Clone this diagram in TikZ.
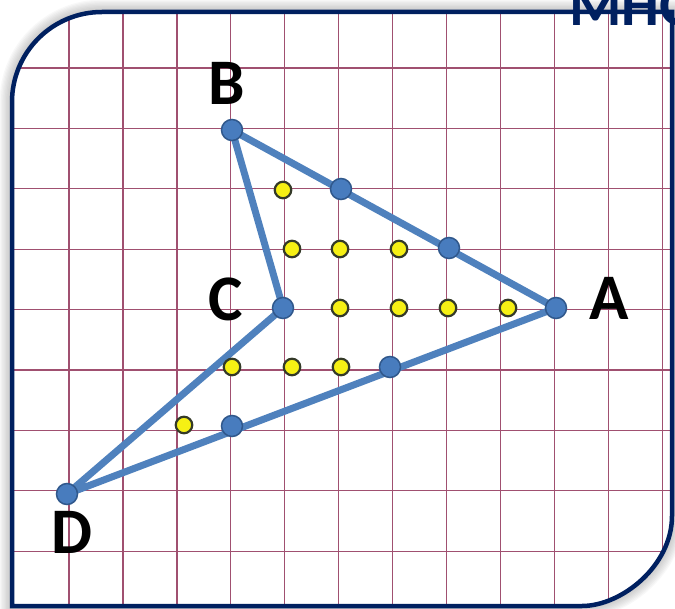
\documentclass[tikz,border=0pt]{standalone}
\usepackage{fontspec}
\setmainfont{Carlito}
\usetikzlibrary{positioning}

\definecolor{framenavy}{RGB}{0,32,96}
\definecolor{gridrose}{RGB}{160,80,112}
\definecolor{edgeblue}{RGB}{79,129,189}
\definecolor{dotblue}{RGB}{72,124,190}
\definecolor{dotrim}{RGB}{48,88,140}
\definecolor{pickyellow}{RGB}{246,240,20}
\definecolor{pickrim}{RGB}{52,58,40}

\begin{document}
\begin{tikzpicture}[
    x=1pt, y=-1pt,
    gridline/.style={gridrose, line width=1.2pt},
    edge/.style={edgeblue, line width=7pt, line join=round, line cap=round},
    bdot/.style={
        circle, draw=dotrim, line width=1.5pt, fill=dotblue,
        minimum size=21pt, inner sep=0pt
    },
    ydot/.style={
        circle, draw=pickrim, line width=2.2pt, fill=pickyellow,
        minimum size=16.5pt, inner sep=0pt
    },
    vlabel/.style={font=\fontsize{65}{65}\selectfont\bfseries, inner sep=0pt},
]
\useasboundingbox (0,0) rectangle (675,609);

% Frame: rounded top-left and bottom-right corners
\def\framepath{(12,606) -- (12,102) .. controls (12,52.3) and (52.3,12) .. (102,12)
    -- (672,12) -- (672,516) .. controls (672,565.7) and (621.7,606) .. (582,606) -- cycle}

% Soft shadow round the frame
\foreach \k in {1,...,8}
    \draw[black!55, opacity=0.05, line width={4pt+2.6pt*\k}] \framepath;
\fill[white] \framepath;

% Squared paper
\begin{scope}
    \clip \framepath;
    \foreach \i in {0,...,11}
        \draw[gridline] ({69+53.95*\i},0) -- ({69+53.95*\i},609);
    \foreach \j in {0,...,8}
        \draw[gridline] (0,{68+60.4*\j}) -- (675,{68+60.4*\j});
\end{scope}

\draw[framenavy, line width=4.5pt] \framepath;

% Title, its top cut off by the page edge
\node[font=\fontsize{60}{60}\selectfont\bfseries, text=framenavy,
    anchor=base west, inner sep=0pt] (title) at (569,26) {МНО};

% Vertices and boundary points
\coordinate (A) at (556,308);
\coordinate (B) at (232,130);
\coordinate (C) at (283,308);
\coordinate (D) at (67,494);
\coordinate (ba1) at (341,189);
\coordinate (ba2) at (449,248);
\coordinate (da1) at (390,367);
\coordinate (da2) at (232,426);

% Polygon B-A-D-C
\draw[edge] (B) -- (A) -- (D) -- (C) -- cycle;

\foreach \p in {A,B,C,D,ba1,ba2,da1,da2}
    \node[bdot] (dot\p) at (\p) {};

% Interior points
\foreach \x/\y [count=\n] in {283/190, 292/249, 340/249, 399/249,
        340/308, 399/308, 448/308, 508/308,
        232/367, 292/367, 341/367, 184/425}
    \node[ydot] (in\n) at (\x,\y) {};

% Vertex labels
\node[vlabel] (labB) at (227,83) {B};
\node[vlabel] (labC) at (226,299) {C};
\node[vlabel] (labA) at (609,298) {A};
\node[vlabel] (labD) at (72,532) {D};

\end{tikzpicture}
\end{document}
